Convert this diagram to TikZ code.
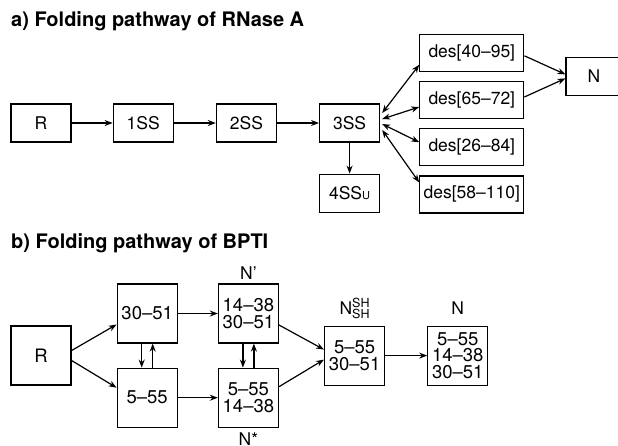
\documentclass[tikz,border=0pt]{standalone}
\usepackage{fontspec}
\setmainfont{TeX Gyre Heros}
\usepackage{tikz}
\usetikzlibrary{arrows.meta,
                positioning,
                calc}
\tikzset{box/.style =
   {rectangle,
    draw,
    line width=1.2pt,
    minimum width=60pt,
    minimum height=38pt,
    inner sep=1pt,
    font=\fontsize{17.5}{17.5}\selectfont}}
\tikzset{desbox/.style =
   {box,
    minimum width=104pt,
    minimum height=37pt}}
\tikzset{pbox/.style =
   {box,
    minimum height=59pt,
    align=center,
    font=\fontsize{18.5}{16.5}\selectfont}}
\tikzset{heading/.style =
   {anchor=base west,
    inner sep=0pt,
    font=\fontsize{20}{20}\selectfont\bfseries}}
\tikzset{tag/.style =
   {inner sep=0pt,
    font=\fontsize{17.5}{17.5}\selectfont}}
\tikzset{arrow/.style = {draw, line width=1.2pt, -{Stealth[length=8pt, width=6pt]}}}
\tikzset{twoway/.style = {arrow, {Stealth[length=8pt, width=6pt]}-{Stealth[length=8pt, width=6pt]}}}
\newcommand{\smallsh}{\fontsize{12.5}{12.5}\selectfont SH}

\begin{document}
\begin{tikzpicture}[x=1pt, y=1pt]

        \useasboundingbox (0,0) rectangle (618,-445);
        \clip (0,0) rectangle (618,-445);

        \node [heading] (titlea) at (11,-26) {a) Folding pathway of RNase A};

        \node [box] (ra) at (41,-123) {R};
        \node [box, right=41pt of ra] (ss1) {1SS};
        \node [box, right=42pt of ss1] (ss2) {2SS};
        \node [box, right=42pt of ss2] (ss3) {3SS};
        \node [box,
               below=31pt of ss3] (ss4) {4SS\raisebox{-0.5pt}{\fontsize{11}{11}\selectfont U}};

        \node [desbox,
               right=39pt of ss3,
               yshift=23pt] (des6572) {des[65--72]};
        \node [desbox, above=9pt of des6572] (des4095) {des[40--95]};
        \node [desbox, below=9pt of des6572] (des2684) {des[26--84]};
        \node [desbox, below=9pt of des2684] (des58110) {des[58--110]};

        \coordinate (desmid) at ($(des4095.east)!0.5!(des6572.east)$);
        \node [box,
               minimum width=56pt,
               right=41pt of desmid] (na) {N};

        \draw [arrow] (ra) -- (ss1);
        \draw [arrow] (ss1) -- (ss2);
        \draw [arrow] (ss2) -- (ss3);
        \draw [arrow] (ss3) -- (ss4);
        \draw [twoway] ([xshift=2pt, yshift=10pt]ss3.east) -- ([yshift=-12pt]des4095.west);
        \draw [twoway] ([xshift=2pt, yshift=4pt]ss3.east) -- ([yshift=-7pt]des6572.west);
        \draw [twoway] ([xshift=2pt, yshift=-1pt]ss3.east) -- ([yshift=5pt]des2684.west);
        \draw [twoway] ([xshift=2pt, yshift=-7pt]ss3.east) -- ([yshift=12pt]des58110.west);
        \draw [arrow] ([yshift=-3pt]des4095.east) -- ([yshift=2pt]na.west);
        \draw [arrow] ([yshift=3pt]des6572.east) -- ([yshift=-2pt]na.west);

        \node [heading] (titleb) at (11,-248) {b) Folding pathway of BPTI};

        \node [pbox] (rb) at (41,-355.5) {R};
        \node [pbox,
               right=45pt of rb,
               yshift=42pt] (p3051) {30--51};
        \node [pbox, below=24pt of p3051] (p555) {5--55};
        \node [pbox, right=40pt of p3051] (nprime) {14--38\\30--51};
        \node [pbox, right=40pt of p555] (nstar) {5--55\\14--38};

        \coordinate (qmid) at ($(nprime.east)!0.5!(nstar.east)$);
        \node [pbox, right=45pt of qmid] (nshsh) {5--55\\30--51};
        \node [pbox, right=42pt of nshsh] (nb) {5--55\\14--38\\30--51};

        \node [tag, above=3.5pt of nprime] (nprimetag) {N’};
        \node [tag, below=4.5pt of nstar] (nstartag) {N*};
        \node [tag,
               above=6.5pt of nshsh] (nshshtag) {N\rlap{\raisebox{7pt}{\smallsh}}\raisebox{-4pt}{\smallsh}};
        \node [tag, above=10.5pt of nb] (nbtag) {N};

        \draw [arrow] ([yshift=5pt]rb.east) -- ([yshift=-11pt]p3051.west);
        \draw [arrow] ([yshift=-5pt]rb.east) -- ([yshift=10pt]p555.west);
        \draw [arrow] (p3051) -- (nprime);
        \draw [arrow] (p555) -- (nstar);
        \draw [arrow] ([xshift=-5.5pt]p3051.south) -- ([xshift=-5.5pt]p555.north);
        \draw [arrow] ([xshift=5.5pt]p555.north) -- ([xshift=5.5pt]p3051.south);
        \draw [arrow] ([xshift=-5.5pt]nprime.south) -- ([xshift=-5.5pt]nstar.north);
        \draw [arrow] ([xshift=5.5pt]nstar.north) -- ([xshift=5.5pt]nprime.south);
        \draw [arrow] ([yshift=-11.5pt]nprime.east) -- ([yshift=6pt]nshsh.west);
        \draw [arrow] ([yshift=11pt]nstar.east) -- ([yshift=-4pt]nshsh.west);
        \draw [arrow] (nshsh) -- (nb);

\end{tikzpicture}
\end{document}
